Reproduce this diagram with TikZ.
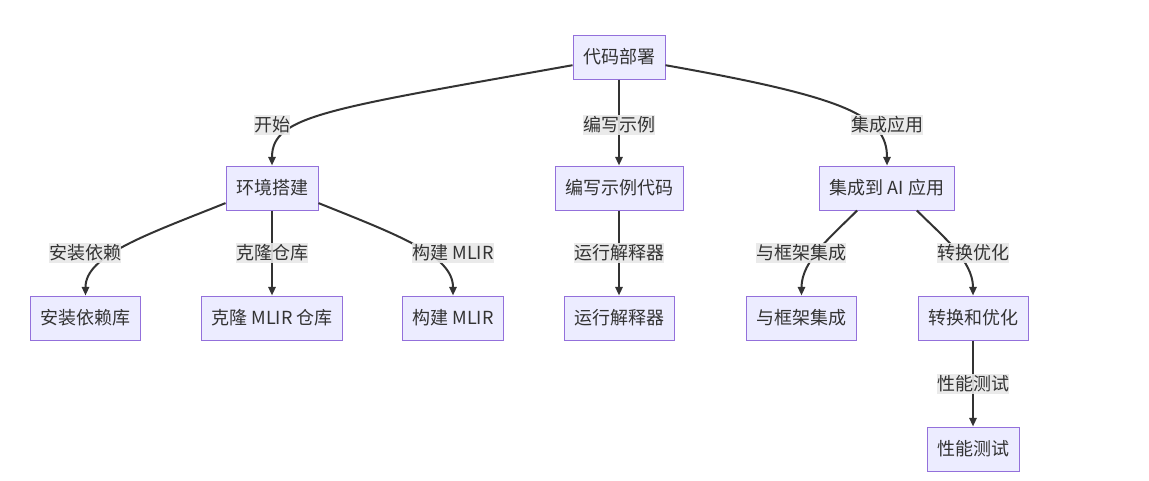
\documentclass[tikz,border=0pt]{standalone}
\usepackage{fontspec}
\newfontfamily\cjk{Noto Sans CJK SC}
\usetikzlibrary{arrows.meta}
\definecolor{boxfill}{HTML}{ECECFF}
\definecolor{boxline}{HTML}{9370DB}
\definecolor{ink}{HTML}{333333}
\definecolor{tagbg}{HTML}{E8E8E8}
\begin{document}
\begin{tikzpicture}[x=0.75pt,y=-0.75pt,
	box/.style={draw=boxline,fill=boxfill,line width=0.75pt,minimum height=33pt,inner xsep=7.5pt,text=ink,font=\cjk\fontsize{13.5pt}{16pt}\selectfont},
	tag/.style={fill=tagbg,fill opacity=0.9,text opacity=1,inner xsep=0pt,inner ysep=1.5pt,text=ink,font=\cjk\fontsize{13.5pt}{16pt}\selectfont},
	edge/.style={draw=ink,line width=1.5pt,-{Triangle[length=6.5pt,width=5.5pt]}}]
						\useasboundingbox (0,0) rectangle (1149,480);
						\node[box] (deploy) at (619,57) {代码部署};
						\node[box] (env) at (272,188) {环境搭建};
						\node[box] (code) at (619,188) {编写示例代码};
						\node[box] (ai) at (887,188) {集成到 AI 应用};
						\node[box] (deps) at (85.5,318) {安装依赖库};
						\node[box] (clone) at (272,318) {克隆 MLIR 仓库};
						\node[box] (build) at (453,318) {构建 MLIR};
						\node[box] (interp) at (619,318) {运行解释器};
						\node[box] (frame) at (801.5,318) {与框架集成};
						\node[box] (opt) at (973,318) {转换和优化};
						\node[box] (perf) at (973,449) {性能测试};
						\draw[edge] (deploy.190) .. controls +(-246,44) and +(0,-50) .. (env.north);
						\draw[edge] (deploy) -- (code);
						\draw[edge] (deploy.350) .. controls +(180,32) and +(0,-50) .. (ai.north);
						\draw[edge] (env.198) .. controls +(-80,32) and +(0,-40) .. (deps.north);
						\draw[edge] (env) -- (clone);
						\draw[edge] (env.342) .. controls +(80,32) and +(0,-40) .. (build.north);
						\draw[edge] (code) -- (interp);
						\draw[edge] (ai.217) .. controls +(-25,25) and +(0,-35) .. (frame.north);
						\draw[edge] (ai.323) .. controls +(25,25) and +(0,-35) .. (opt.north);
						\draw[edge] (opt) -- (perf);
						\node[tag] (start) at (272,125) {开始};
						\node[tag] (write) at (619,125) {编写示例};
						\node[tag] (integ) at (887,125) {集成应用};
						\node[tag] (install) at (85,253) {安装依赖};
						\node[tag] (repo) at (272,253) {克隆仓库};
						\node[tag] (make) at (453,253) {构建 MLIR};
						\node[tag] (run) at (619,253) {运行解释器};
						\node[tag] (fw) at (801,253) {与框架集成};
						\node[tag] (conv) at (973,253) {转换优化};
						\node[tag] (bench) at (973,384) {性能测试};
					\end{tikzpicture}
\end{document}
